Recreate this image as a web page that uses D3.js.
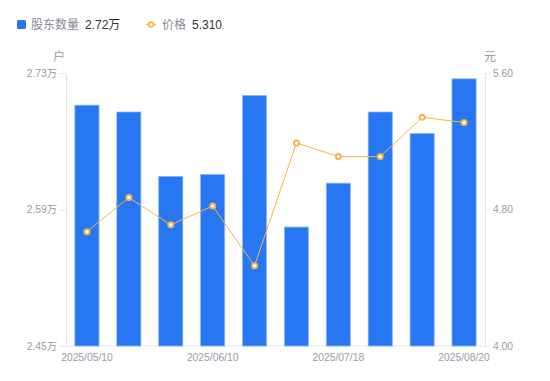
<!DOCTYPE html>
<html>
<head>
<meta charset="utf-8">
<script src="https://cdn.jsdelivr.net/npm/d3@7"></script>
<style>
  body { margin: 0; background: #fff; font-family: "Liberation Sans", "Noto Sans CJK SC", sans-serif; }
  svg text { font-family: "Liberation Sans", "Noto Sans CJK SC", sans-serif; }
</style>
</head>
<body>
<script>
const dates = ["2025/05/10","2025/05/20","2025/05/31","2025/06/10","2025/06/20","2025/06/30","2025/07/18","2025/07/31","2025/08/10","2025/08/20"];
const holders = [2.697, 2.690, 2.624, 2.626, 2.707, 2.572, 2.617, 2.690, 2.668, 2.724]; // 万户
const prices = [4.67, 4.87, 4.71, 4.82, 4.47, 5.19, 5.11, 5.11, 5.34, 5.31];
const shownDates = ["2025/05/10","2025/06/10","2025/07/18","2025/08/20"];
const leftTicks = [2.45, 2.59, 2.73];
const rightTicks = [4.00, 4.80, 5.60];

const width = 550, height = 381;
const plotLeft = 66, plotRight = 485, plotTop = 73, plotBottom = 346;
const axisGray = "#e3e3e8", labelGray = "#9a9aa8";
const barBlue = "#2777f2", lineOrange = "#f7b342";

const svg = d3.select("body").append("svg")
    .attr("width", width)
    .attr("height", height)

const x = d3.scaleBand()
    .domain(dates)
    .range([plotLeft, plotRight])
    .paddingInner(0.4)
    .paddingOuter(0.2)

const yL = d3.scaleLinear().domain([2.45, 2.73]).range([plotBottom, plotTop]);
const yR = d3.scaleLinear().domain([4.00, 5.60]).range([plotBottom, plotTop]);

// axes
const gl = svg.append("g").attr("transform", `translate(${plotLeft},0)`)
    .call(d3.axisLeft(yL).tickValues(leftTicks).tickSize(5).tickPadding(4)
        .tickFormat(d => d.toFixed(2) + "万"))
const gr = svg.append("g").attr("transform", `translate(${plotRight},0)`)
    .call(d3.axisRight(yR).tickValues(rightTicks).tickSize(5).tickPadding(3)
        .tickFormat(d => d.toFixed(2)))
const gb = svg.append("g").attr("transform", `translate(0,${plotBottom})`)
    .call(d3.axisBottom(x).tickValues(shownDates).tickSize(0).tickPadding(8))

for (const g of [gl, gr, gb]) {
    g.select(".domain").attr("stroke", axisGray)
    g.selectAll(".tick line").attr("stroke", axisGray)
    g.selectAll("text").attr("fill", labelGray).style("font-size", "10.3px")
}
gb.select(".domain").attr("d", `M${plotLeft},0H${plotRight}`)

svg.append("text").attr("x", 59).attr("y", 61).attr("text-anchor", "middle")
    .attr("fill", labelGray).style("font-size", "12px").text("户")
svg.append("text").attr("x", 490).attr("y", 61).attr("text-anchor", "middle")
    .attr("fill", labelGray).style("font-size", "12px").text("元")

// bars
svg.selectAll(".bar")
    .data(dates)
    .enter()
    .append("rect")
    .attr("class", "bar")
    .attr("x", (d, i) => x(d) + 0.5)
    .attr("y", (d, i) => yL(holders[i]))
    .attr("width", x.bandwidth() - 1)
    .attr("height", (d, i) => plotBottom - yL(holders[i]))
    .attr("fill", barBlue)
    .attr("stroke", "#8db6f8")
    .attr("stroke-width", 0.8)

// price line
const line = d3.line()
    .x((d, i) => x(dates[i]) + x.bandwidth() / 2)
    .y(d => yR(d))

svg.append("path")
    .datum(prices)
    .attr("d", line)
    .attr("fill", "none")
    .attr("stroke", lineOrange)
    .attr("stroke-width", 1)

svg.selectAll(".pt")
    .data(prices)
    .enter()
    .append("circle")
    .attr("class", "pt")
    .attr("cx", (d, i) => x(dates[i]) + x.bandwidth() / 2)
    .attr("cy", d => yR(d))
    .attr("r", 2.6)
    .attr("fill", "#fff")
    .attr("stroke", lineOrange)
    .attr("stroke-width", 1.8)

// legend
const legend = svg.append("g").style("font-size", "12px")
legend.append("rect").attr("x", 17).attr("y", 20).attr("width", 9).attr("height", 9)
    .attr("rx", 1.5).attr("fill", barBlue)
legend.append("text").attr("x", 31).attr("y", 29).attr("fill", "#8a8a99").text("股东数量")
legend.append("text").attr("x", 85).attr("y", 29).attr("fill", "#333").text(holders[holders.length - 1].toFixed(2) + "万")
legend.append("line").attr("x1", 146).attr("x2", 156).attr("y1", 24.5).attr("y2", 24.5)
    .attr("stroke", lineOrange).attr("stroke-width", 1.2)
legend.append("circle").attr("cx", 151).attr("cy", 24.5).attr("r", 2.4)
    .attr("fill", "#fff").attr("stroke", lineOrange).attr("stroke-width", 1.6)
legend.append("text").attr("x", 162).attr("y", 29).attr("fill", "#8a8a99").text("价格")
legend.append("text").attr("x", 192).attr("y", 29).attr("fill", "#333").text(prices[prices.length - 1].toFixed(3))
</script>
</body>
</html>
